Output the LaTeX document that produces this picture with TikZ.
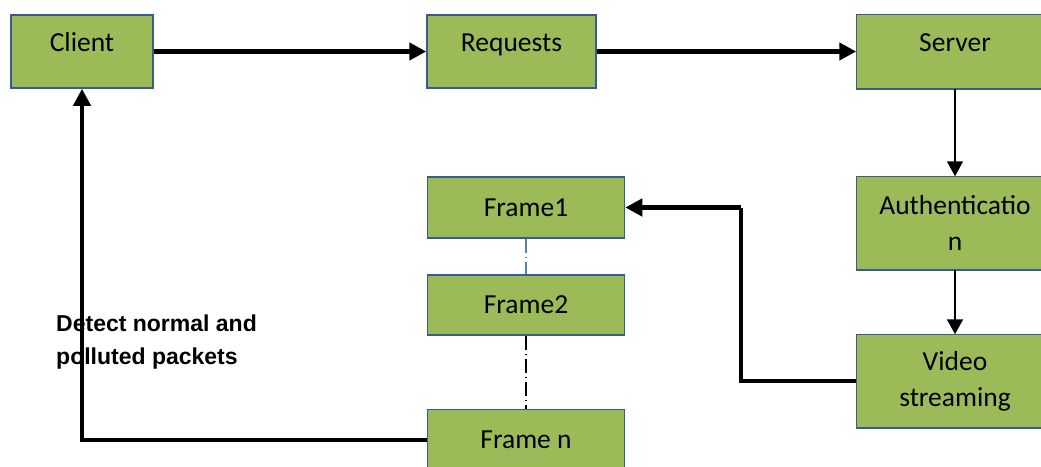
\documentclass[tikz,border=0pt]{standalone}
\usepackage{fontspec}
\setmainfont{Carlito}
\newfontfamily\labelfont{Liberation Sans}
\usetikzlibrary{arrows.meta}
\definecolor{boxgreen}{HTML}{9BBB59}
\definecolor{boxblue}{HTML}{385D8A}
\definecolor{dashblue}{HTML}{4F81BD}
\begin{document}
\begin{tikzpicture}[x=1pt,y=-1pt,
  box/.style={draw=boxblue, line width=1.5pt, fill=boxgreen, inner sep=0pt,
    font=\fontsize{27.5}{36}\selectfont, align=center, text=black},
  cutbox/.style={box, draw=none},
  cutedge/.style={draw=boxblue, line width=1.5pt},
  toprow/.style={text height=20pt, text depth=20pt, minimum height=73pt},
  thickarrow/.style={line width=4.5pt, -{Triangle[length=17pt,width=17pt]}},
  thinarrow/.style={line width=1.8pt, -{Triangle[length=15pt,width=16pt]}},
  thickline/.style={line width=4pt},
  dashdot/.style={dash pattern=on 14pt off 4pt on 1pt off 4pt}]
\useasboundingbox (0,0) rectangle (1041,466);
\clip (0,0) rectangle (1041,466);
% boxes
\node[box, toprow, minimum width=142pt] (client) at (82,51.5) {Client};
\node[box, toprow, minimum width=169pt] (requests) at (511.5,51.5) {Requests};
\node[cutbox, toprow, minimum width=196pt] (server) at (955,51.5) {Server};
\node[cutbox, minimum width=196pt, minimum height=92pt] (auth) at (955,223) {Authenticatio\\n};
\node[cutbox, minimum width=196pt, minimum height=92pt] (video) at (955,381) {Video\\streaming};
\foreach \b in {server,auth,video}
  \draw[cutedge] ([xshift=10pt]\b.south east) -- (\b.south west) -- (\b.north west) -- ([xshift=10pt]\b.north east);
\node[box, minimum width=197pt, minimum height=61pt] (frame1) at (526,207.5) {Frame1};
\node[box, minimum width=197pt, minimum height=60pt] (frame2) at (526,305) {Frame2};
\node[box, minimum width=197pt, minimum height=61pt] (framen) at (526,440) {Frame n};
% label
\node[anchor=north west, inner sep=0pt, align=left,
  font=\labelfont\bfseries\fontsize{23}{33}\selectfont] (lbl) at (56,314.7)
  {Detect normal and\\polluted packets};
% connectors
\coordinate (bend1) at (741,207.5);
\draw[thickarrow] (client) -- (requests);
\draw[thickarrow] (requests) -- (server);
\draw[thinarrow] (server) -- (auth);
\draw[thinarrow] (auth) -- (video);
\draw[thickline] (video.west) -| (bend1);
\draw[thickarrow] (bend1) -- (frame1.east);
\draw[thickline, -{Triangle[length=17pt,width=17pt]}] (framen.west) -| (client.south);
\draw[dashdot, draw=dashblue, line width=1.2pt] (frame1) -- (frame2);
\draw[dashdot, line width=1.5pt] (frame2) -- (framen);
\end{tikzpicture}
\end{document}
